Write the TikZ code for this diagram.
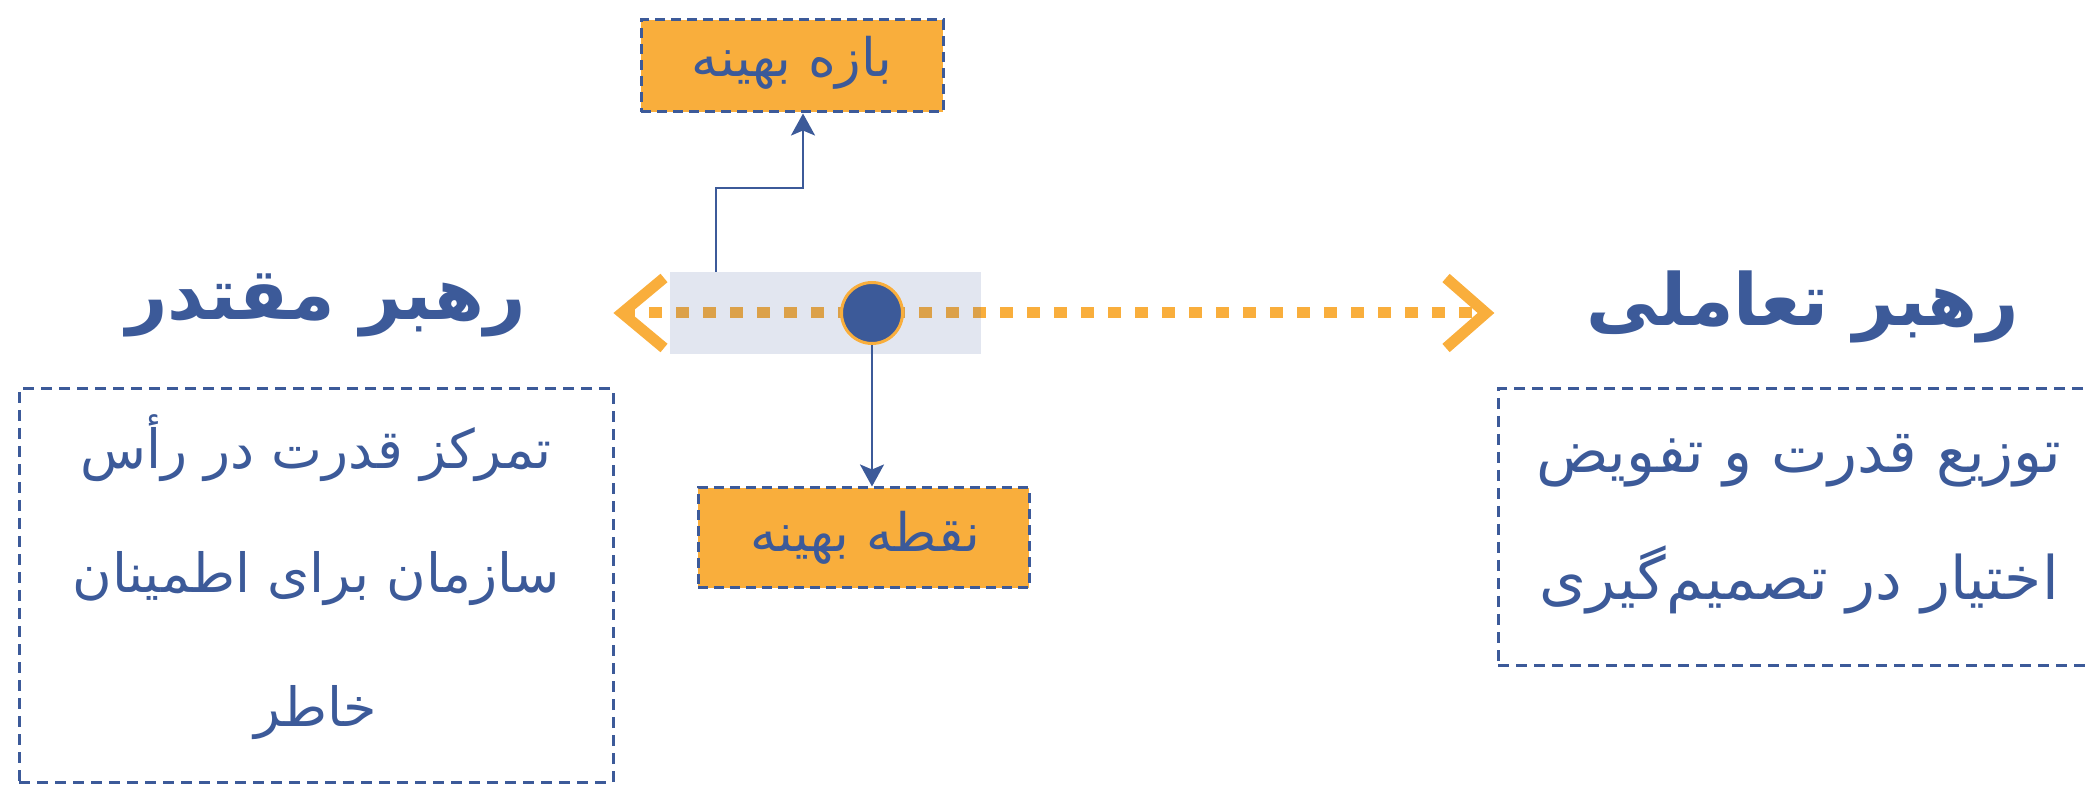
\documentclass[tikz,border=0pt]{standalone}
\usepackage{fontspec}
\newfontfamily\arabicfont[Script=Arabic]{DejaVu Sans}
\TeXXeTstate=1
\usetikzlibrary{arrows.meta}
\definecolor{ink}{HTML}{3C5A99}
\definecolor{amber}{HTML}{F9AE3C}
\begin{document}
\begin{tikzpicture}[x=1pt,y=1pt,
  txt/.style={text=ink, inner sep=0pt, anchor=base},
  title/.style={txt, font=\arabicfont\bfseries\fontsize{72}{86}\selectfont},
  lbody/.style={txt, font=\arabicfont\fontsize{54}{64}\selectfont},
  rbody/.style={txt, font=\arabicfont\fontsize{60}{72}\selectfont},
  tagtext/.style={txt, font=\arabicfont\fontsize{53}{64}\selectfont},
  tag/.style={draw=ink, fill=amber, line width=3pt, dash pattern=on 10pt off 6pt, inner sep=0pt},
  panel/.style={draw=ink, line width=3pt, dash pattern=on 11pt off 7pt, inner sep=0pt},
  conn/.style={draw=ink, line width=2.5pt, -{Stealth[length=22pt,width=24pt,inset=5pt]}},
  chev/.style={draw=amber, line width=11pt, miter limit=10},
]
\useasboundingbox (0,0) rectangle (2089,785);
\clip (0,0) rectangle (2089,785);

% dashed panels
\node[panel, minimum width=594pt, minimum height=393pt] (lpanel) at (316,199.5) {};
\node[panel, minimum width=640pt, minimum height=277pt] (rpanel) at (1818,257.5) {};

% titles
\node[title] (ltitle) at (326,465) {\beginR رهبر مقتدر\endR};
\node[title] (rtitle) at (1803,459) {\beginR رهبر تعاملی\endR};

% panel texts
\node[lbody] (l1) at (316,316) {\beginR تمرکز قدرت در رأس\endR};
\node[lbody] (l2) at (316,192) {\beginR سازمان برای اطمینان\endR};
\node[lbody] (l3) at (316,59) {\beginR خاطر\endR};
\node[rbody] (r1) at (1799,312) {\beginR توزیع قدرت و تفویض\endR};
\node[rbody] (r2) at (1799,185) {\beginR اختیار در تصمیم^^^^200cگیری\endR};

% the scale line with its chevrons
\coordinate (lt) at (622,472);
\coordinate (rt) at (1486,472);
\draw[amber, line width=11pt, dash pattern=on 13pt off 14pt] (lt) -- (rt);
\draw[chev] ([shift={(42,35)}]lt) -- (lt) -- ([shift={(42,-35)}]lt);
\draw[chev] ([shift={(-40,35)}]rt) -- (rt) -- ([shift={(-40,-35)}]rt);

% optimal band and point
\node[fill=ink, fill opacity=0.15, minimum width=311pt, minimum height=82pt, inner sep=0pt] (band) at (825.5,472) {};
\node[circle, fill=ink, draw=amber, line width=3pt, minimum size=61pt, inner sep=0pt] (pt) at (872,472) {};

% labels
\node[tag, minimum width=302pt, minimum height=92pt] (range) at (792,719) {};
\node[tagtext] (rangetxt) at (792,708) {\beginR بازه بهینه\endR};
\node[tag, minimum width=331pt, minimum height=100pt] (opt) at (863.5,247) {};
\node[tagtext] (opttxt) at (865,233) {\beginR نقطه بهینه\endR};

% connectors
\coordinate (bend) at (803,597);
\draw[conn] ([xshift=-109.5pt]band.north) |- (bend) -- (bend |- range.south);
\draw[conn] (pt.south) -- (pt.south |- opt.north);
\end{tikzpicture}
\end{document}
